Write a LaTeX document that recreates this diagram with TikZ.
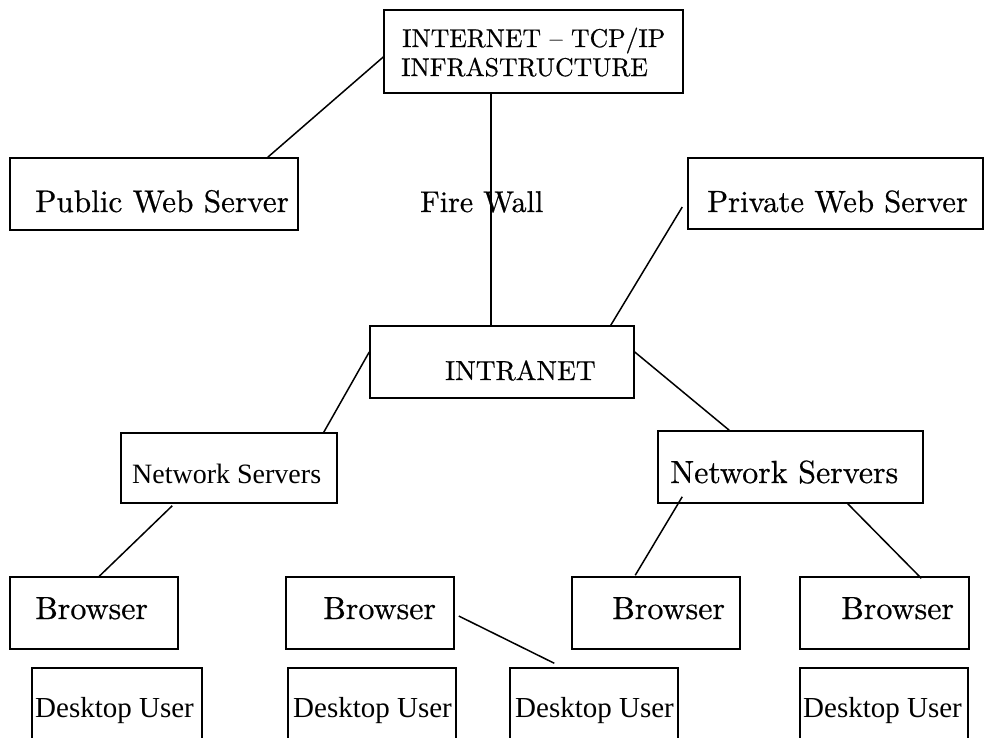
\documentclass[tikz,border=0pt]{standalone}
\usepackage{fontspec}
\setmainfont{lmroman10-regular}[Extension=.otf, FakeBold=0.6]
\newfontfamily\tms{LiberationSerif}[Extension=.ttf, UprightFont=*-Regular]
\begin{document}
\begin{tikzpicture}[x=1pt,y=-1pt,
  box/.style={draw, line width=1.5pt, inner sep=0pt},
  lbl/.style={anchor=base west, inner sep=0pt},
  conn/.style={line width=1.5pt},
  fs/.style={font=\fontsize{#1}{#1}\selectfont},
  tfs/.style={font=\tms\fontsize{#1}{#1}\selectfont}]
\useasboundingbox (0,0) rectangle (985,737);
\clip (0,0) rectangle (985,737);
% boxes
\node[box, minimum width=299pt, minimum height=83pt] (inet)  at (533.5,51.5) {};
\node[box, minimum width=288pt, minimum height=72pt] (pub)   at (154,194) {};
\node[box, minimum width=295pt, minimum height=71pt] (priv)  at (835.5,193.5) {};
\node[box, minimum width=264pt, minimum height=72pt] (intra) at (502,362) {};
\node[box, minimum width=216pt, minimum height=70pt] (nsL)   at (229,468) {};
\node[box, minimum width=265pt, minimum height=72pt] (nsR)   at (790.5,467) {};
\node[box, minimum width=168pt, minimum height=72pt] (br1)   at (94,613) {};
\node[box, minimum width=168pt, minimum height=72pt] (br2)   at (370,613) {};
\node[box, minimum width=168pt, minimum height=72pt] (br3)   at (656,613) {};
\node[box, minimum width=169pt, minimum height=72pt] (br4)   at (884.5,613) {};
\node[box, minimum width=170pt, minimum height=112pt] (du1)  at (117,724) {};
\node[box, minimum width=168pt, minimum height=112pt] (du2)  at (372,724) {};
\node[box, minimum width=168pt, minimum height=112pt] (du3)  at (594,724) {};
\node[box, minimum width=168pt, minimum height=112pt] (du4)  at (884,724) {};
% texts
\node[lbl, fs=25.7] (inet-t1) at (402,47) {INTERNET -- TCP/IP};
\node[lbl, fs=25.7] (inet-t2) at (401,76) {INFRASTRUCTURE};
\node[lbl, fs=31.2] (pub-t) at (35,212) {Public Web Server};
\node[lbl, fs=30] (fw-t) at (420,212) {Fire Wall};
\node[lbl, fs=30.7] (priv-t) at (707,212) {Private Web Server};
\node[lbl, fs=27.5] (intra-t) at (445,380) {INTRANET};
\node[lbl, tfs=28] (nsL-t) at (132,483) {Network Servers};
\node[lbl, fs=32] (nsR-t) at (670,483) {Network Servers};
\node[lbl, fs=32] (br1-t) at (35,619) {Browser};
\node[lbl, fs=32] (br2-t) at (323,619) {Browser};
\node[lbl, fs=32] (br3-t) at (612,619) {Browser};
\node[lbl, fs=32] (br4-t) at (841,619) {Browser};
\node[lbl, tfs=29] (du1-t) at (35,717) {Desktop User};
\node[lbl, tfs=29] (du2-t) at (293,717) {Desktop User};
\node[lbl, tfs=29] (du3-t) at (515,717) {Desktop User};
\node[lbl, tfs=29] (du4-t) at (803,717) {Desktop User};
% connectors
\draw[conn] ([yshift=-5.5pt]inet.west) -- ([xshift=-31pt]pub.north east);
\draw[conn] ([xshift=-42.5pt]inet.south) -- ([xshift=-42.5pt]inet.south |- intra.north);
\draw[conn] ([xshift=-5pt,yshift=-13.5pt]priv.west) -- ([xshift=-24pt]intra.north east);
\draw[conn] ([yshift=10pt]intra.west) -- ([xshift=-14pt]nsL.north east);
\draw[conn] ([yshift=10pt]intra.east) -- ([xshift=72pt]nsR.north west);
\draw[conn] ([xshift=52pt,yshift=-2pt]nsL.south west) -- ([xshift=90pt]br1.north west);
\draw[conn] ([xshift=25pt,yshift=7pt]nsR.south west) -- ([xshift=64pt,yshift=1pt]br3.north west);
\draw[conn] ([xshift=-76pt]nsR.south east) -- ([xshift=122pt,yshift=-2pt]br4.north west);
\draw[conn] ([xshift=4pt,yshift=-3pt]br2.east) -- ([xshift=45pt,yshift=4pt]du3.north west);
\end{tikzpicture}
\end{document}
